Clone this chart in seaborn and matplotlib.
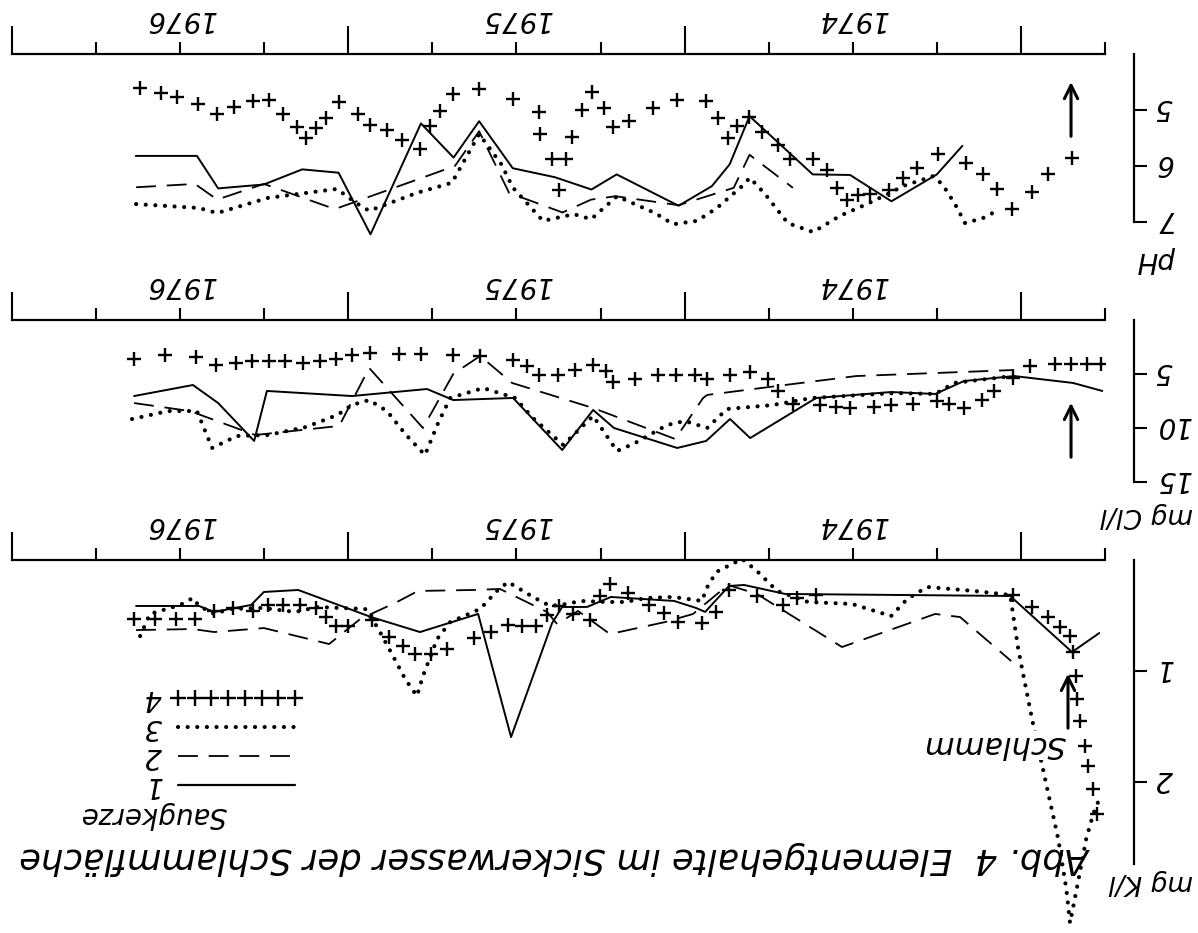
"""
Abb. 4 - Elementgehalte im Sickerwasser der Schlammflaeche.
Scanned original is printed upside down, so the chart is drawn rotated by 180 deg:
time runs right->left, values grow downwards, all text is turned over.
"""

import matplotlib
matplotlib.use('Agg')
import numpy as np
import matplotlib.pyplot as plt
import seaborn as sns
from matplotlib.lines import Line2D
from matplotlib.ticker import FixedLocator, MultipleLocator

sns.set_theme(style='white', rc={'axes.edgecolor': 'black', 'text.color': 'black',
                                 'xtick.color': 'black', 'ytick.color': 'black'})
plt.rcParams['font.family'] = ['DejaVu Sans']

# ---------------- data (decimal year, value) ----------------
# pH
ph1_t = [1976.632, 1976.450, 1976.387, 1976.251, 1976.137, 1976.029, 1975.934, 1975.784, 1975.687,
         1975.611, 1975.511, 1975.386, 1975.277, 1975.202, 1975.018, 1974.919, 1974.866, 1974.807,
         1974.619, 1974.508, 1974.385, 1974.250, 1974.174]
ph1_v = [5.82, 5.82, 6.40, 6.33, 6.06, 6.12, 7.22, 5.24, 5.85, 5.20, 6.04, 6.20, 6.42, 6.15, 6.71,
         6.36, 5.97, 5.11, 6.15, 6.16, 6.63, 6.15, 5.64]
ph2_t = [1976.631, 1976.456, 1976.390, 1976.251, 1976.040, 1975.683, 1975.611, 1975.522, 1975.363,
         1975.278, 1975.205, 1975.018, 1974.854, 1974.807, 1974.678]
ph2_v = [6.38, 6.32, 6.60, 6.32, 6.77, 6.00, 5.38, 6.48, 6.83, 6.60, 6.54, 6.70, 6.39, 5.80, 6.39]
ph3_t = [1976.631, 1976.444, 1976.390, 1976.239, 1976.150, 1976.034, 1975.977, 1975.938, 1975.885,
         1975.796, 1975.692, 1975.611, 1975.546, 1975.510, 1975.421, 1975.329, 1975.278, 1975.201,
         1975.088, 1975.034, 1974.963, 1974.904, 1974.829, 1974.806, 1974.761, 1974.693, 1974.618,
         1974.538, 1974.458, 1974.389, 1974.351, 1974.306, 1974.261, 1974.232, 1974.196, 1974.166,
         1974.113, 1974.068]
ph3_v = [6.68, 6.75, 6.84, 6.57, 6.50, 6.41, 6.66, 6.80, 6.68, 6.48, 6.30, 5.43, 5.96, 6.39, 6.98,
         6.86, 6.95, 6.54, 6.84, 7.04, 6.98, 6.75, 6.36, 6.21, 6.50, 7.02, 7.18, 6.89, 6.68, 6.48,
         6.36, 6.27, 6.18, 6.34, 6.68, 7.02, 6.93, 6.79]
ph4_t = [1976.619, 1976.557, 1976.509, 1976.447, 1976.390, 1976.340, 1976.283, 1976.236, 1976.194,
         1976.152, 1976.126, 1976.096, 1976.066, 1976.027, 1975.971, 1975.935, 1975.885, 1975.840,
         1975.787, 1975.757, 1975.727, 1975.688, 1975.611, 1975.510, 1975.433, 1975.430, 1975.394,
         1975.352, 1975.373, 1975.335, 1975.305, 1975.275, 1975.239, 1975.213, 1975.165, 1975.094,
         1975.022, 1974.936, 1974.900, 1974.871, 1974.844, 1974.808, 1974.769, 1974.722, 1974.686,
         1974.618, 1974.576, 1974.546, 1974.517, 1974.484, 1974.448, 1974.392, 1974.350, 1974.308,
         1974.246, 1974.163, 1974.112, 1974.071, 1974.026, 1973.967, 1973.919, 1973.848]
ph4_v = [4.61, 4.70, 4.77, 4.89, 5.07, 4.95, 4.84, 4.82, 5.07, 5.30, 5.50, 5.32, 5.14, 4.86, 5.07,
         5.27, 5.36, 5.54, 5.70, 5.29, 5.02, 4.71, 4.63, 4.80, 5.04, 5.43, 5.88, 5.88, 6.43, 5.48,
         5.00, 4.68, 4.96, 5.30, 5.20, 4.96, 4.82, 4.84, 5.14, 5.50, 5.29, 5.13, 5.39, 5.63, 5.88,
         5.88, 6.07, 6.39, 6.61, 6.52, 6.50, 6.43, 6.21, 6.04, 5.79, 5.95, 6.14, 6.41, 6.77, 6.46,
         6.14, 5.86]

# mg Cl/l
cl1_t = [1976.637, 1976.462, 1976.387, 1976.280, 1976.242, 1975.989, 1975.766, 1975.688, 1975.510,
         1975.364, 1975.272, 1975.210, 1975.022, 1974.936, 1974.865, 1974.805, 1974.609, 1974.386,
         1974.255, 1974.169, 1974.020, 1973.845, 1973.758]
cl1_v = [7.04, 6.02, 7.69, 11.20, 6.57, 7.04, 6.39, 7.41, 7.22, 12.04, 8.33, 10.0, 11.85, 11.20,
         9.17, 10.93, 7.22, 6.67, 6.85, 5.65, 5.19, 5.83, 6.57]
cl2_t = [1976.637, 1976.471, 1976.277, 1976.027, 1975.938, 1975.778, 1975.688, 1975.608, 1975.513,
         1975.272, 1975.028, 1974.945, 1974.933, 1974.725, 1974.490, 1974.020]
cl2_v = [7.69, 8.43, 10.65, 9.81, 4.44, 10.0, 5.0, 3.33, 5.83, 8.15, 11.02, 7.22, 6.94, 6.11, 5.19,
         4.63]
cl3_t = [1976.643, 1976.536, 1976.450, 1976.405, 1976.331, 1976.239, 1976.126, 1976.033, 1975.989,
         1975.938, 1975.885, 1975.828, 1975.772, 1975.733, 1975.697, 1975.599, 1975.504, 1975.451,
         1975.391, 1975.361, 1975.272, 1975.201, 1975.147, 1975.052, 1974.999, 1974.933, 1974.874,
         1974.737, 1974.621, 1974.374, 1974.255, 1974.199, 1974.026]
cl3_v = [9.17, 8.43, 8.43, 11.85, 10.74, 10.65, 9.91, 8.80, 7.87, 7.41, 8.43, 10.65, 12.5, 9.54,
         7.22, 6.30, 7.22, 9.07, 10.74, 11.57, 8.89, 12.13, 11.39, 9.72, 9.35, 10.0, 8.24, 7.87,
         7.22, 6.76, 6.85, 5.83, 5.19]
cl4_t = [1976.637, 1976.545, 1976.453, 1976.393, 1976.334, 1976.286, 1976.236, 1976.188, 1976.135,
         1976.084, 1976.036, 1975.989, 1975.935, 1975.849, 1975.784, 1975.688, 1975.608, 1975.510,
         1975.468, 1975.433, 1975.376, 1975.326, 1975.272, 1975.233, 1975.213, 1975.147, 1975.079,
         1975.025, 1974.969, 1974.933, 1974.865, 1974.805, 1974.752, 1974.722, 1974.677, 1974.597,
         1974.549, 1974.508, 1974.436, 1974.386, 1974.320, 1974.249, 1974.213, 1974.169, 1974.115,
         1974.080, 1974.023, 1973.973, 1973.898, 1973.851, 1973.803, 1973.761]
cl4_v = [3.61, 3.24, 3.43, 4.17, 3.98, 3.80, 3.80, 3.80, 3.98, 3.80, 3.61, 3.24, 3.06, 3.15, 3.15,
         3.24, 3.33, 3.70, 4.26, 5.09, 5.09, 4.63, 4.17, 4.72, 5.74, 5.46, 5.09, 5.09, 5.09, 5.46,
         5.09, 4.81, 5.46, 6.57, 7.78, 7.87, 8.06, 8.15, 8.06, 7.87, 7.78, 7.50, 7.78, 8.15, 7.41,
         6.57, 5.37, 4.26, 4.07, 4.07, 4.07, 4.07]

# mg K/l
k1_t = [1976.631, 1976.444, 1976.399, 1976.289, 1976.251, 1976.149, 1975.932, 1975.787, 1975.614,
        1975.516, 1975.394, 1975.364, 1975.290, 1975.219, 1975.031, 1974.966, 1974.939, 1974.868,
        1974.823, 1974.701, 1974.032, 1973.848, 1973.767]
k1_v = [0.414, 0.414, 0.468, 0.405, 0.288, 0.270, 0.514, 0.649, 0.486, 1.595, 0.568, 0.423, 0.423,
        0.333, 0.369, 0.432, 0.468, 0.234, 0.225, 0.306, 0.324, 0.829, 0.658]
k2_t = [1976.631, 1976.462, 1976.399, 1976.251, 1976.057, 1975.965, 1975.855, 1975.793, 1975.629,
        1975.549, 1975.409, 1975.379, 1975.317, 1975.222, 1975.058, 1974.975, 1974.871, 1974.785,
        1974.532, 1974.255, 1974.181, 1974.029]
k2_v = [0.631, 0.622, 0.649, 0.613, 0.757, 0.532, 0.378, 0.279, 0.270, 0.261, 0.468, 0.577, 0.459,
        0.667, 0.559, 0.486, 0.225, 0.306, 0.784, 0.486, 0.514, 0.910]
k3_t = [1976.619, 1976.590, 1976.500, 1976.462, 1976.444, 1976.399, 1976.352, 1976.256, 1976.158,
        1976.090, 1976.025, 1975.950, 1975.914, 1975.867, 1975.831, 1975.796, 1975.778, 1975.736,
        1975.697, 1975.608, 1975.558, 1975.525, 1975.451, 1975.400, 1975.349, 1975.311, 1975.230,
        1975.177, 1975.112, 1975.034, 1974.948, 1974.936, 1974.906, 1974.829, 1974.785, 1974.725,
        1974.633, 1974.502, 1974.386, 1974.338, 1974.279, 1974.139, 1974.032, 1974.008, 1973.967,
        1973.928, 1973.889, 1973.865, 1973.854, 1973.833, 1973.806, 1973.785, 1973.767]
k3_v = [0.685, 0.486, 0.405, 0.342, 0.414, 0.486, 0.441, 0.432, 0.468, 0.423, 0.432, 0.441, 0.604,
        0.865, 1.072, 1.225, 1.045, 0.712, 0.559, 0.441, 0.279, 0.198, 0.333, 0.414, 0.396, 0.369,
        0.378, 0.378, 0.342, 0.333, 0.369, 0.261, 0.108, -0.01, 0.099, 0.279, 0.378, 0.396, 0.505,
        0.351, 0.243, 0.279, 0.315, 0.802, 1.432, 1.973, 2.514, 2.964, 3.270, 2.946, 2.514, 2.288,
        2.153]
k4_t = [1976.637, 1976.575, 1976.512, 1976.456, 1976.399, 1976.343, 1976.283, 1976.239, 1976.194,
        1976.143, 1976.096, 1976.066, 1976.036, 1976.001, 1975.929, 1975.879, 1975.837, 1975.801,
        1975.754, 1975.706, 1975.626, 1975.575, 1975.525, 1975.483, 1975.442, 1975.409, 1975.373,
        1975.332, 1975.281, 1975.251, 1975.222, 1975.168, 1975.106, 1975.061, 1975.019, 1974.948,
        1974.906, 1974.868, 1974.784, 1974.707, 1974.665, 1974.609, 1974.023, 1973.967, 1973.919,
        1973.883, 1973.854, 1973.845, 1973.836, 1973.833, 1973.824, 1973.809, 1973.800, 1973.785,
        1973.773]
k4_v = [0.532, 0.532, 0.532, 0.532, 0.459, 0.432, 0.459, 0.405, 0.405, 0.405, 0.432, 0.514, 0.595,
        0.595, 0.541, 0.694, 0.775, 0.847, 0.847, 0.802, 0.703, 0.649, 0.586, 0.595, 0.595, 0.495,
        0.414, 0.486, 0.541, 0.324, 0.216, 0.297, 0.405, 0.477, 0.559, 0.568, 0.468, 0.270, 0.324,
        0.405, 0.342, 0.315, 0.315, 0.423, 0.514, 0.604, 0.685, 0.829, 1.045, 1.252, 1.450, 1.676,
        1.856, 2.063, 2.288]

# arrows (time, tail value, head value) for pH, Cl, K
arrow_t = [1973.851, 1973.851, 1973.860]
arrow_tail = [5.52, 12.96, 1.54]
arrow_head = [4.45, 7.41, 1.0]

years = ['1974', '1975', '1976']
year_mid = [1974.5, 1975.5, 1976.5]
year_edges = [1974.0, 1975.0, 1976.0, 1977.0]
legend_labels = ['4', '3', '2', '1']

T_LEFT, T_RIGHT = 1977.0, 1973.75
W, H = 1198, 933
FONT = 20


def px_box(left, top, right, bottom):
    return [left / W, 1 - bottom / H, (right - left) / W, (bottom - top) / H]


def style_panel(ax, ylim, ybound, yticks):
    ax.set_xlim(T_LEFT, T_RIGHT)
    ax.set_ylim(*ylim)
    ax.grid(False)
    ax.set_xlabel('')
    ax.set_ylabel('')
    for s in ['left', 'bottom']:
        ax.spines[s].set_visible(False)
    ax.spines['top'].set_linewidth(1.6)
    ax.spines['right'].set_linewidth(1.6)
    ax.spines['right'].set_position(('outward', 21))
    ax.spines['right'].set_bounds(*ybound)
    ax.xaxis.set_ticks_position('top')
    ax.yaxis.set_ticks_position('right')
    ax.xaxis.set_major_locator(FixedLocator(year_edges))
    ax.xaxis.set_minor_locator(MultipleLocator(0.25))
    ax.tick_params(axis='x', which='major', direction='out', length=20, width=1.5,
                   labeltop=False, labelbottom=False, top=True, bottom=False)
    ax.tick_params(axis='x', which='minor', direction='out', length=8.5, width=1.5,
                   top=True, bottom=False)
    ax.set_yticks(yticks)
    ax.set_yticklabels([str(v) for v in yticks])
    ax.tick_params(axis='y', direction='out', length=9, width=1.5, labelsize=FONT,
                   labelrotation=180, pad=6, right=True, left=False,
                   labelright=True, labelleft=False)
    for lab in ax.get_yticklabels():
        lab.set_style('italic')
        lab.set_rotation_mode('anchor')
        lab.set_ha('right')
        lab.set_va('center_baseline')
    for yr, mid in zip(years, year_mid):
        ax.annotate(yr, xy=(mid, 1), xycoords=('data', 'axes fraction'), xytext=(0, 25),
                    textcoords='offset points', rotation=180, ha='center', va='center',
                    fontsize=FONT, style='italic')


def draw_series(ax, t1, v1, t2, v2, t3, v3, t4, v4):
    sns.lineplot(x=t1, y=v1, ax=ax, sort=False, estimator=None, color='black', lw=1.4)
    sns.lineplot(x=t2, y=v2, ax=ax, sort=False, estimator=None, color='black', lw=1.3,
                 linestyle=(0, (11, 6)))
    sns.lineplot(x=t3, y=v3, ax=ax, sort=False, estimator=None, color='black', lw=3.0,
                 linestyle=(0, (0.01, 2.3)), dash_capstyle='round')
    sns.scatterplot(x=t4, y=v4, ax=ax, marker='+', color='black', s=90, linewidth=1.7, zorder=3)


fig = plt.figure(figsize=(W / 100, H / 100), dpi=100)
fig.patch.set_facecolor('white')

ax1 = fig.add_axes(px_box(12, 54, 1105, 250))
ax2 = fig.add_axes(px_box(12, 320, 1105, 487.4))
ax3 = fig.add_axes(px_box(12, 560, 1105, 933))
for ax in (ax1, ax2, ax3):
    ax.patch.set_alpha(0)

draw_series(ax1, ph1_t, ph1_v, ph2_t, ph2_v, ph3_t, ph3_v, ph4_t, ph4_v)
draw_series(ax2, cl1_t, cl1_v, cl2_t, cl2_v, cl3_t, cl3_v, cl4_t, cl4_v)
draw_series(ax3, k1_t, k1_v, k2_t, k2_v, k3_t, k3_v, k4_t, k4_v)

style_panel(ax1, (7.5, 4.0), (4, 7), [5, 6, 7])
style_panel(ax2, (15.5, 0), (0, 15), [5, 10, 15])
style_panel(ax3, (3.36, 0), (0, 2.74), [1, 2])

for ax, t, tail, head in zip((ax1, ax2, ax3), arrow_t, arrow_tail, arrow_head):
    ax.annotate('', xy=(t, head), xytext=(t, tail),
                arrowprops=dict(arrowstyle='->', lw=2.2, color='black', mutation_scale=24))

# axis names (upside down; ha='right' is where the turned text begins)
fig.text(1157 / W, 1 - 260 / H, 'pH', rotation=180, ha='center', va='center',
         fontsize=FONT, style='italic')
fig.text(1193 / W, 1 - 515 / H, 'mg Cl/l', rotation=180, ha='right', va='center',
         fontsize=19, style='italic')
fig.text(1193 / W, 1 - 882 / H, 'mg K/l', rotation=180, ha='right', va='center',
         fontsize=19, style='italic')

# Schlamm label next to the K arrow
fig.text(1066 / W, 1 - 745 / H, 'Schlamm', rotation=180, ha='right', va='center',
         fontsize=22, style='italic',
         bbox=dict(facecolor='white', edgecolor='none', pad=0))

# hand-made legend (Saugkerze 1-4)
leg_y = [698, 727, 756, 785]
x0, x1 = 178, 295
styles = [dict(ls='none', marker='+', ms=11, mew=1.7),
          dict(ls=(0, (0.01, 2.3)), lw=3.0, dash_capstyle='round'),
          dict(ls=(0, (11, 6)), lw=1.3),
          dict(ls='-', lw=1.6)]
for lab, y, st in zip(legend_labels, leg_y, styles):
    if st.get('marker') == '+':
        xs = np.linspace(x0, x1, 8)
    else:
        xs = np.array([x0, x1])
    fig.add_artist(Line2D(xs / W, 1 - np.full(len(xs), y) / H, color='black',
                          transform=fig.transFigure, **st))
    fig.text(153 / W, 1 - y / H, lab, rotation=180, ha='center', va='center',
             fontsize=FONT, style='italic')
fig.text(154 / W, 1 - 815 / H, 'Saugkerze', rotation=180, ha='center', va='center',
         fontsize=20, style='italic')

# figure caption, printed upside down
fig.text(1092 / W, 1 - 858 / H, 'Abb. 4  Elementgehalte im Sickerwasser der Schlammfläche',
         rotation=180, ha='right', va='center', fontsize=25.5, style='italic')

fig.savefig('out.png', dpi=100, facecolor='white')
plt.close(fig)
